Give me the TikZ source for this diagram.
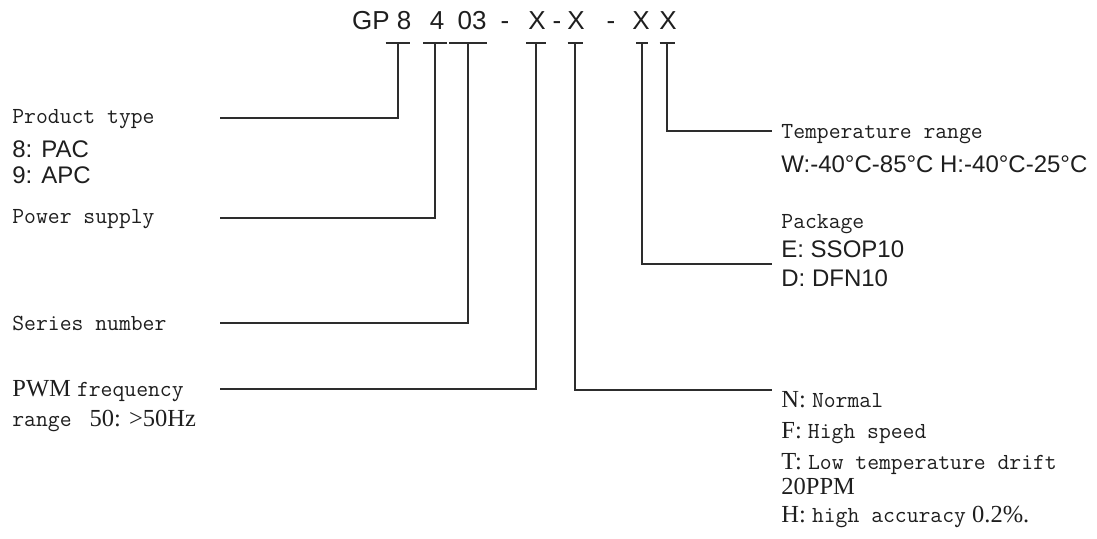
\documentclass[tikz,border=0pt]{standalone}
\usepackage{fontspec}
\setmainfont{Liberation Serif}
\newfontfamily\arialfont{Liberation Sans}
\usepackage{tikz}
\usetikzlibrary{positioning}
\definecolor{linegray}{RGB}{45,45,45}
\definecolor{textgray}{RGB}{30,30,30}
\newcommand{\mono}[1]{{\ttfamily\fontsize{11.5}{15}\selectfont #1}}
\newcommand{\sans}[1]{{\arialfont\fontsize{12}{15}\selectfont #1}}

\begin{document}
\begin{tikzpicture}[
  x=0.5pt, y=-0.5pt,
  partcode/.style={anchor=base, inner sep=0pt, text=textgray,
    font=\arialfont\fontsize{13}{15}\selectfont},
  desc/.style={anchor=north west, inner sep=0pt, align=left, text=textgray,
    font=\fontsize{12.25}{15}\selectfont},
  lead/.style={draw=linegray, line width=1pt}
]
  \useasboundingbox (0,0) rectangle (1097,538);

  \node[partcode] (gp)  at (371,29) {GP};
  \node[partcode] (c8)  at (404,29) {8};
  \node[partcode] (c4)  at (437,29) {4};
  \node[partcode] (c03) at (472,29) {03};
  \node[partcode] (dA)  at (505,29) {-};
  \node[partcode] (cX1) at (537,29) {X};
  \node[partcode] (dB)  at (557,29) {-};
  \node[partcode] (cX2) at (576,29) {X};
  \node[partcode] (dC)  at (611,29) {-};
  \node[partcode] (cX3) at (641,29) {X};
  \node[partcode] (cX4) at (668,29) {X};

  \coordinate (t8)  at (397.5,43);
  \coordinate (t4)  at (435,43);
  \coordinate (t03) at (468,43);
  \coordinate (tX1) at (536,43);
  \coordinate (tX2) at (575,43);
  \coordinate (tX3) at (642,43);
  \coordinate (tX4) at (667,43);

  \foreach \t/\w in {t8/6pt, t4/6pt, t03/9.5pt, tX1/5pt, tX2/3.75pt, tX3/3pt, tX4/3.75pt}
    \draw[lead] ([xshift=-\w]\t) -- ([xshift=\w]\t);

  \node[desc] (ptype) at (12,109.5) {\mono{Product type}\\[2pt] \sans{8: PAC}\\[-2pt] \sans{9: APC}};
  \node[desc] (psupply) at (12,209.5) {\mono{Power supply}};
  \node[desc] (series) at (12,315.5) {\mono{Series number}};
  \node[desc] (pwm) at (12,380.5) {PWM \mono{frequency}\\ \mono{range\ } 50: >50Hz};

  \node[desc] (temp) at (781,124.5) {\mono{Temperature range}\\[2pt] \sans{W:-40°C-85°C H:-40°C-25°C}};
  \node[desc] (pkg) at (781,214.5) {\mono{Package}\\[-0.5pt] \sans{E: SSOP10}\\[-0.5pt] \sans{D: DFN10}};
  \node[desc] (speed) at (781,391.5) {N: \mono{Normal}\\[0.5pt] F: \mono{High speed}\\[0.5pt]
    T: \mono{Low temperature drift}\\[-2.5pt] 20PPM\\[-1pt] H: \mono{high accuracy} 0.2\%.};

  \coordinate (in-pt)  at (220,118);
  \coordinate (in-ps)  at (220,218);
  \coordinate (in-sn)  at (220,323);
  \coordinate (in-pwm) at (220,389);
  \coordinate (out-tr) at (772,131);
  \coordinate (out-pk) at (772,264);
  \coordinate (out-sp) at (772,390);

  \draw[lead] (in-pt) -| (t8);
  \draw[lead] (in-ps) -| (t4);
  \draw[lead] (in-sn) -| (t03);
  \draw[lead] (in-pwm) -| (tX1);
  \draw[lead] (tX2) |- (out-sp);
  \draw[lead] (tX3) |- (out-pk);
  \draw[lead] (tX4) |- (out-tr);
\end{tikzpicture}
\end{document}
